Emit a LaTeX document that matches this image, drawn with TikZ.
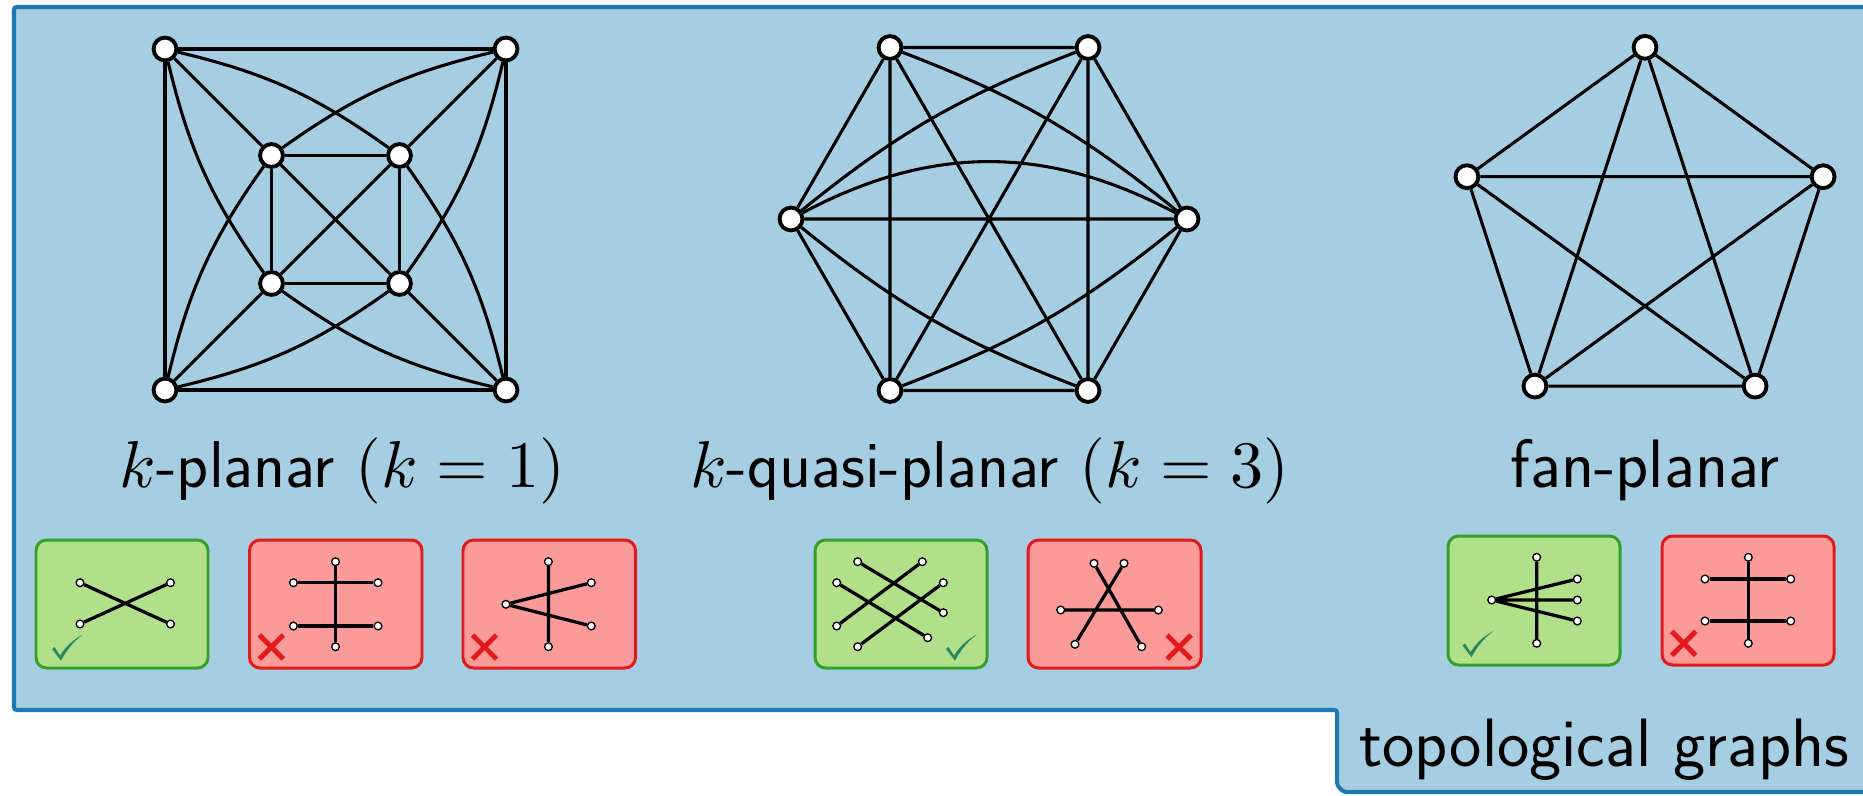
\documentclass[tikz,border=0pt]{standalone}
\usepackage{fontspec}
\usetikzlibrary{calc}

% scalable Computer Modern shapes for the large math in the captions
\DeclareFontFamily{OML}{cmm}{\skewchar\font127}
\DeclareFontShape{OML}{cmm}{m}{it}{<->cmmi10}{}
\DeclareFontShape{OT1}{cmr}{m}{n}{<->cmr10}{}
\DeclareFontShape{OMS}{cmsy}{m}{n}{<->cmsy10}{}

\definecolor{paneblue}{HTML}{A6CEE3}
\definecolor{paneedge}{HTML}{1F78B4}
\definecolor{okfill}{HTML}{B2DF8A}
\definecolor{okedge}{HTML}{33A02C}
\definecolor{badfill}{HTML}{FB9A99}
\definecolor{badedge}{HTML}{E31A1C}
\definecolor{tickgreen}{HTML}{2A8A5E}

\pgfdeclarelayer{back}
\pgfdeclarelayer{wires}
\pgfsetlayers{back,wires,main}

\begin{document}
\begin{tikzpicture}[x=0.02cm,y=-0.02cm,
  vtx/.style={circle,draw=black,fill=white,line width=2.2pt,minimum size=13pt,inner sep=0pt},
  pin/.style={circle,draw=black,fill=white,line width=0.75pt,minimum size=4.4pt,inner sep=0pt},
  wire/.style={line width=1.75pt},
  twire/.style={line width=1.85pt},
  okbox/.style={draw=okedge,fill=okfill,line width=1.7pt,rounded corners=6pt},
  badbox/.style={draw=badedge,fill=badfill,line width=1.7pt,rounded corners=6pt},
  xmark/.style={draw=badedge,line width=2.8pt},
  caption/.style={font=\sffamily\fontsize{39}{44}\selectfont,anchor=base,inner sep=0pt},
  mathcaption/.style={caption,font=\sffamily\fontsize{37.7}{42}\selectfont},
  okcheck/.pic={
    \fill[tickgreen] (-8,-11) -- (-5.5,-13) -- (0,-4.5)
      .. controls (6,-14) and (14,-21) .. (23,-25.5)
      .. controls (13,-18) and (6,-9) .. (1,0.8) -- cycle;
  },
]
\useasboundingbox (0,0) rectangle (1863,795);

% ---------- pane with its tab ----------
\begin{pgfonlayer}{back}
\path[fill=paneblue,draw=paneedge,line width=2.3pt,rounded corners=1.5pt]
  (14,7) -- (1880,7) -- (1880,792) -- (1349,792)
  arc[start angle=270,end angle=180,radius=6.8pt] -- (1337,710) -- (14,710) -- cycle;

% small example boxes
\draw[okbox]  (36,540) rectangle (208,668);
\draw[badbox] (249.5,540) rectangle (422,668);
\draw[badbox] (463,540) rectangle (635.5,668);
\draw[okbox]  (815,540) rectangle (987,668);
\draw[badbox] (1028,540) rectangle (1201,668);
\draw[okbox]  (1448,536) rectangle (1620,665);
\draw[badbox] (1662,536) rectangle (1834,665);
\end{pgfonlayer}

% ---------- 1-planar drawing ----------
\node[vtx] (a1) at (165,49) {};
\node[vtx] (a2) at (506,49) {};
\node[vtx] (a3) at (506,390) {};
\node[vtx] (a4) at (165,390) {};
\node[vtx] (b1) at (271.5,155.5) {};
\node[vtx] (b2) at (399.5,155.5) {};
\node[vtx] (b3) at (399.5,283.5) {};
\node[vtx] (b4) at (271.5,283.5) {};
\begin{pgfonlayer}{wires}
\draw[wire] (a1) -- (a2) -- (a3) -- (a4) -- (a1);
\draw[wire] (b1) -- (b2) -- (b3) -- (b4) -- (b1);
\draw[wire] (b1) -- (b3) (b2) -- (b4);
\draw[wire] (a1) -- (b1) (a2) -- (b2) (a3) -- (b3) (a4) -- (b4);
\draw[wire] (a1) to[bend left=11]  (b2);
\draw[wire] (a2) to[bend right=11] (b1);
\draw[wire] (a1) to[bend right=11] (b4);
\draw[wire] (a4) to[bend left=11]  (b1);
\draw[wire] (a2) to[bend left=11]  (b3);
\draw[wire] (a3) to[bend right=11] (b2);
\draw[wire] (a4) to[bend right=11] (b3);
\draw[wire] (a3) to[bend left=11]  (b4);
\end{pgfonlayer}
\node[mathcaption] (c1) at (342.5,487) {$k$-planar $(k=1)$};

% ---------- 3-quasi-planar drawing ----------
\node[vtx] (h1) at (890,47.5) {};
\node[vtx] (h2) at (1088,47.5) {};
\node[vtx] (h3) at (1187,219) {};
\node[vtx] (h4) at (1088,390.5) {};
\node[vtx] (h5) at (890,390.5) {};
\node[vtx] (h6) at (791,219) {};
\begin{pgfonlayer}{wires}
\draw[wire] (h1) -- (h2) -- (h3) -- (h4) -- (h5) -- (h6) -- (h1);
\draw[wire] (h1) -- (h5) (h2) -- (h4) (h1) -- (h4) (h2) -- (h5) (h6) -- (h3);
\draw[wire] (h6) to[bend left=28] (h3);
\draw[wire] (h6) to[bend left=9]  (h2);
\draw[wire] (h3) to[bend right=9] (h1);
\draw[wire] (h6) to[bend right=9] (h4);
\draw[wire] (h3) to[bend left=9]  (h5);
\end{pgfonlayer}
\node[mathcaption] (c2) at (989.5,487) {$k$-quasi-planar $(k=3)$};

% ---------- fan-planar drawing ----------
\node[vtx] (p1) at (1645,47.3) {};
\node[vtx] (p2) at (1823.1,176.7) {};
\node[vtx] (p3) at (1755.1,386.1) {};
\node[vtx] (p4) at (1534.9,386.1) {};
\node[vtx] (p5) at (1466.9,176.7) {};
\begin{pgfonlayer}{wires}
\draw[wire] (p1) -- (p2) -- (p3) -- (p4) -- (p5) -- (p1);
\draw[wire] (p1) -- (p3) (p1) -- (p4) (p2) -- (p4) (p2) -- (p5) (p3) -- (p5);
\end{pgfonlayer}
\node[caption] (c3) at (1645,487) {fan-planar};

% ---------- small configurations ----------
% box 1: a single crossing (allowed)
\node[pin] (s11) at (80,582.7) {};
\node[pin] (s12) at (170.5,582.7) {};
\node[pin] (s13) at (80,624) {};
\node[pin] (s14) at (170.5,624) {};
% box 2: one edge crossed twice
\node[pin] (s21) at (335.5,561.7) {};
\node[pin] (s22) at (335.5,646.7) {};
\node[pin] (s23) at (293.4,582.7) {};
\node[pin] (s24) at (378,582.7) {};
\node[pin] (s25) at (293.4,626) {};
\node[pin] (s26) at (378,626) {};
% box 3: one edge crossed by two adjacent edges
\node[pin] (s31) at (548.4,561.7) {};
\node[pin] (s32) at (548.4,646.7) {};
\node[pin] (s33) at (505.9,604.3) {};
\node[pin] (s34) at (591.3,582.7) {};
\node[pin] (s35) at (591.3,626) {};
% box 4: four edges, no three pairwise crossing
\node[pin] (s41) at (857.7,561.7) {};
\node[pin] (s42) at (922.3,561.7) {};
\node[pin] (s43) at (836.7,582.7) {};
\node[pin] (s44) at (943.3,582.7) {};
\node[pin] (s45) at (943.3,612.7) {};
\node[pin] (s46) at (836.7,626) {};
\node[pin] (s47) at (927.7,637.7) {};
\node[pin] (s48) at (857.7,646.7) {};
% box 5: three pairwise crossing edges
\node[pin] (s51) at (1094,563.3) {};
\node[pin] (s52) at (1124,563.3) {};
\node[pin] (s53) at (1060.7,610) {};
\node[pin] (s54) at (1158.3,610) {};
\node[pin] (s55) at (1075,644.3) {};
\node[pin] (s56) at (1141.7,646.7) {};
% box 6: a fan crossing one edge
\node[pin] (s61) at (1536.7,557.3) {};
\node[pin] (s62) at (1536.7,643.3) {};
\node[pin] (s63) at (1491.7,600) {};
\node[pin] (s64) at (1577.3,579) {};
\node[pin] (s65) at (1577.3,600) {};
\node[pin] (s66) at (1577.3,621) {};
% box 7: two independent edges crossing one edge
\node[pin] (s71) at (1748.3,557.3) {};
\node[pin] (s72) at (1748.3,643.3) {};
\node[pin] (s73) at (1705,579) {};
\node[pin] (s74) at (1790.7,579) {};
\node[pin] (s75) at (1705,621) {};
\node[pin] (s76) at (1790.7,621) {};

\begin{pgfonlayer}{wires}
\draw[twire] (s11) -- (s14) (s13) -- (s12);
\draw[twire] (s21) -- (s22) (s23) -- (s24) (s25) -- (s26);
\draw[twire] (s31) -- (s32) (s33) -- (s34) (s33) -- (s35);
\draw[twire] (s41) -- (s45) (s43) -- (s47) (s42) -- (s46) (s44) -- (s48);
\draw[twire] (s53) -- (s54) (s51) -- (s56) (s52) -- (s55);
\draw[twire] (s61) -- (s62) (s63) -- (s64) (s63) -- (s65) (s63) -- (s66);
\draw[twire] (s71) -- (s72) (s73) -- (s74) (s75) -- (s76);
\end{pgfonlayer}

% verdict marks
\pic at (60,660) {okcheck};
\pic at (954,660) {okcheck};
\pic at (1470.5,656.5) {okcheck};
\draw[xmark,shift={(271.4,647)}] (-12,-12) -- (12,12) (-12,12) -- (12,-12);
\draw[xmark,shift={(484.5,647)}] (-12,-12) -- (12,12) (-12,12) -- (12,-12);
\draw[xmark,shift={(1179,647)}] (-12,-12) -- (12,12) (-12,12) -- (12,-12);
\draw[xmark,shift={(1683.7,643.3)}] (-12,-12) -- (12,12) (-12,12) -- (12,-12);

% tab label
\node[caption,anchor=base west] (tab) at (1359,766) {topological graphs};
\end{tikzpicture}
\end{document}
